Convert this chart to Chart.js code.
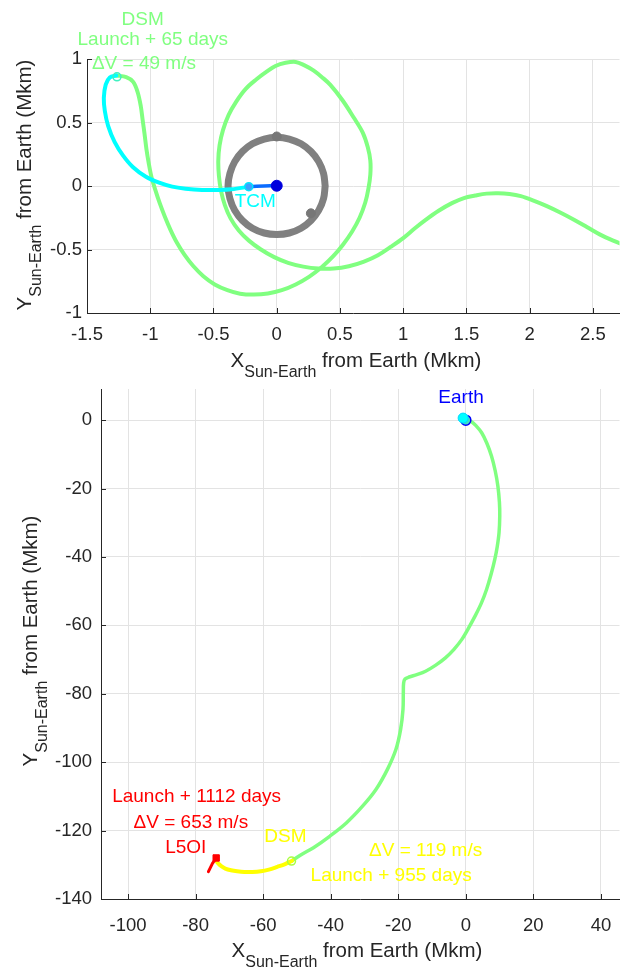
<!DOCTYPE html>
<html>
<head>
<meta charset="utf-8">
<script src="https://cdn.jsdelivr.net/npm/chart.js@4.4.1/dist/chart.umd.min.js"></script>
<style>
  body { margin: 0; background: #fff; }
  #wrap { position: relative; width: 626px; height: 969px; }
  #nearChart { position: absolute; left: 0; top: 0; }
  #farChart { position: absolute; left: 0; top: 380px; }
</style>
</head>
<body>
<div id="wrap">
  <canvas id="nearChart" width="626" height="380"></canvas>
  <canvas id="farChart" width="626" height="589"></canvas>
</div>
<script>
// ---- top panel: first weeks near Earth (Mkm) ----
const nearXTicks = [-1.5, -1, -0.5, 0, 0.5, 1, 1.5, 2, 2.5];
const nearYTicks = [-1, -0.5, 0, 0.5, 1];

// Moon orbit trace (grey ring)
const moonX = [0.383, 0.370, 0.332, 0.271, 0.192, 0.099, 0, -0.099, -0.192, -0.271, -0.332, -0.370, -0.385, -0.370, -0.332, -0.271, -0.192, -0.099, 0, 0.099, 0.192, 0.271, 0.332, 0.370, 0.383];
const moonY = [0, 0.099, 0.192, 0.271, 0.332, 0.370, 0.383, 0.370, 0.332, 0.271, 0.192, 0.099, 0, -0.099, -0.192, -0.271, -0.332, -0.370, -0.381, -0.370, -0.332, -0.271, -0.192, -0.099, 0];
const moonMarkX = [0, 0.27];
const moonMarkY = [0.39, -0.215];

// launch -> TCM (blue)
const launchX = [0, -0.1, -0.22];
const launchY = [0.005, 0.0, -0.005];

// TCM -> DSM (cyan)
const cruiseX = [-0.219, -0.357, -0.461, -0.591, -0.721, -0.826, -0.930, -1.034, -1.138, -1.216, -1.281, -1.333, -1.359, -1.367, -1.352, -1.320, -1.268];
const cruiseY = [-0.005, -0.026, -0.031, -0.031, -0.021, -0.005, 0.026, 0.073, 0.150, 0.241, 0.345, 0.474, 0.591, 0.694, 0.798, 0.855, 0.870];

// after DSM (green)
const transferX = [-1.268, -1.19, -1.135, -1.1, -1.075, -1.06, -1.045, -1.03, -1.012, -0.99, -0.96, -0.925, -0.885, -0.84, -0.79, -0.73, -0.66, -0.58, -0.49, -0.39, -0.29, -0.18, -0.07, 0.04, 0.15, 0.255, 0.355, 0.445, 0.525, 0.595, 0.655, 0.7, 0.725, 0.74, 0.74, 0.72, 0.68, 0.61, 0.52, 0.424, 0.36, 0.29, 0.22, 0.15, 0.07, -0.01, -0.08, -0.16, -0.245, -0.32, -0.38, -0.425, -0.452, -0.462, -0.457, -0.44, -0.41, -0.365, -0.3, -0.22, -0.125, -0.02, 0.09, 0.21, 0.33, 0.45, 0.57, 0.69, 0.8, 0.9, 1.0, 1.09, 1.18, 1.28, 1.385, 1.48, 1.57, 1.66, 1.75, 1.84, 1.93, 2.03, 2.14, 2.245, 2.35, 2.455, 2.557, 2.66, 2.75];
const transferY = [0.870, 0.858, 0.82, 0.74, 0.63, 0.52, 0.41, 0.29, 0.18, 0.07, -0.03, -0.135, -0.24, -0.345, -0.445, -0.54, -0.63, -0.71, -0.775, -0.82, -0.848, -0.855, -0.846, -0.82, -0.775, -0.715, -0.64, -0.555, -0.46, -0.36, -0.25, -0.13, -0.02, 0.09, 0.2, 0.305, 0.42, 0.537, 0.675, 0.796, 0.855, 0.91, 0.95, 0.977, 0.97, 0.945, 0.9, 0.84, 0.765, 0.665, 0.56, 0.44, 0.32, 0.2, 0.08, -0.04, -0.15, -0.255, -0.35, -0.43, -0.5, -0.56, -0.605, -0.635, -0.65, -0.65, -0.632, -0.595, -0.545, -0.48, -0.41, -0.335, -0.265, -0.195, -0.135, -0.095, -0.075, -0.06, -0.057, -0.063, -0.08, -0.115, -0.16, -0.21, -0.265, -0.325, -0.383, -0.43, -0.465];

// ---- bottom panel: whole cruise to L5 (Mkm) ----
const farXTicks = [-100, -80, -60, -40, -20, 0, 20, 40];
const farYTicks = [-140, -120, -100, -80, -60, -40, -20, 0];

const cruise2X = [0, 1.5, 3.0, 4.7, 6.2, 7.6, 8.7, 9.5, 9.95, 10.05, 9.84, 9.3, 8.58, 7.5, 6.14, 4.6, 2.73, 0.8, -1.17, -3.5, -6.04, -9, -11.9, -14.5, -16.8, -18.0, -18.4, -18.5, -18.6, -19.3, -20.7, -23.2, -26.6, -30.5, -35.3, -40.2, -45.1, -49, -51.4];
const cruise2Y = [0.3, -0.3, -1.6, -3.7, -6.7, -10.5, -14.8, -19.3, -24, -28, -32.9, -37, -40.7, -45, -49.5, -53.5, -57.3, -60.8, -64.1, -67, -69.5, -71.7, -73.4, -74.4, -75.1, -75.7, -76.8, -79.7, -84.6, -90.4, -96.3, -102.1, -108, -112.8, -117.7, -121.6, -125, -127.2, -128.8];

const finalX = [-51.4, -53.5, -55.8, -58.3, -60.7, -63.2, -65.6, -67.7, -69.5, -71.2, -72.4, -73.3, -73.8, -74.0];
const finalY = [-128.8, -129.8, -130.6, -131.4, -131.9, -132.1, -132.1, -131.9, -131.6, -131.1, -130.4, -129.6, -128.9, -128.2];

const insertionX = [-74.0, -75.0, -76.2];
const insertionY = [-128.2, -129.6, -132.0];

const toPoints = (xs, ys) => xs.map((x, i) => ({ x: x, y: ys[i] }));

const FONT = '"Liberation Sans", Arial, Helvetica, sans-serif';
const AXIS = '#262626';
const GRID = '#e3e3e3';
const GREEN = '#80ff80';

Chart.defaults.font.family = FONT;
Chart.defaults.animation = false;

// axis title with a subscript, like the MATLAB tex label
function drawSubTitle(ctx, cx, base, rotated) {
  const big = '20.5px ' + FONT, small = '16px ' + FONT;
  const parts = [[rotated ? 'Y' : 'X', big, 0], ['Sun-Earth', small, 10], [' from Earth (Mkm)', big, 0]];
  let total = 0;
  parts.forEach(p => { ctx.font = p[1]; p.push(ctx.measureText(p[0]).width); total += p[3]; });
  ctx.save();
  if (rotated) {
    ctx.translate(base, cx);
    ctx.rotate(-Math.PI / 2);
  } else {
    ctx.translate(cx, base);
  }
  ctx.fillStyle = AXIS;
  ctx.textAlign = 'left';
  ctx.textBaseline = 'alphabetic';
  let x = -total / 2;
  parts.forEach(p => { ctx.font = p[1]; ctx.fillText(p[0], x, p[2]); x += p[3]; });
  ctx.restore();
}

const decor = {
  id: 'decor',
  afterDraw(chart, args, opts) {
    const ctx = chart.ctx, xs = chart.scales.x, ys = chart.scales.y, a = chart.chartArea;
    ctx.save();
    // inward tick marks
    ctx.strokeStyle = AXIS;
    ctx.lineWidth = 1;
    ctx.beginPath();
    xs.ticks.forEach(t => {
      const px = Math.round(xs.getPixelForValue(t.value)) + 0.5;
      ctx.moveTo(px, a.bottom); ctx.lineTo(px, a.bottom - 5);
    });
    ys.ticks.forEach(t => {
      const py = Math.round(ys.getPixelForValue(t.value)) + 0.5;
      ctx.moveTo(a.left, py); ctx.lineTo(a.left + 5, py);
    });
    ctx.stroke();
    // event labels
    ctx.font = '19px ' + FONT;
    ctx.textAlign = 'center';
    ctx.textBaseline = 'middle';
    opts.labels.forEach(l => {
      ctx.fillStyle = l.color;
      ctx.fillText(l.text, xs.getPixelForValue(l.x), ys.getPixelForValue(l.y));
    });
    ctx.restore();
    drawSubTitle(ctx, opts.xTitle[0], opts.xTitle[1], false);
    drawSubTitle(ctx, opts.yTitle[0], opts.yTitle[1], true);
  }
};

function line(points, color, width, order, tension) {
  return { data: points, showLine: true, borderColor: color, borderWidth: width, pointRadius: 0, tension: tension, order: order, borderCapStyle: 'round', borderJoinStyle: 'round' };
}
function marker(points, style, radius, border, fill, bw, order) {
  return { data: points, showLine: false, pointStyle: style, pointRadius: radius, borderColor: border, backgroundColor: fill, pointBorderWidth: bw, borderWidth: bw, order: order };
}
function axis(min, max, ticks, size, pad, isX) {
  return {
    type: 'linear', min: min, max: max,
    afterBuildTicks: s => { s.ticks = ticks.map(v => ({ value: v })); },
    afterFit: s => {
      if (isX) s.height = size; else s.width = size;
      s.paddingTop = 0; s.paddingBottom = 0; s.paddingLeft = 0; s.paddingRight = 0;
    },
    grid: { color: GRID, drawTicks: false },
    border: { color: AXIS, width: 1 },
    ticks: { color: AXIS, font: { size: 18.5 }, padding: pad, autoSkip: false, maxRotation: 0, callback: v => String(v) }
  };
}

new Chart(document.getElementById('nearChart'), {
  type: 'scatter',
  data: {
    datasets: [
      marker([{ x: -1.263, y: 0.86 }], 'circle', 4, '#40f0c0', 'rgba(0,0,0,0)', 1.5, 0),
      marker([{ x: -0.221, y: -0.005 }], 'circle', 4, '#00e5ff', '#3fa0ff', 1.5, 0),
      marker([{ x: 0, y: 0.002 }], 'circle', 5.5, '#0000dd', '#0000dd', 1, 0),
      line(toPoints(launchX, launchY), '#0a6cff', 3.5, 1, 0.3),
      line(toPoints(cruiseX, cruiseY), '#00ffff', 4, 2, 0.35),
      line(toPoints(transferX, transferY), GREEN, 4, 3, 0.35),
      marker(toPoints(moonMarkX, moonMarkY), 'circle', 4.5, '#777777', '#777777', 1, 4),
      line(toPoints(moonX, moonY), '#808080', 7, 5, 0.4)
    ]
  },
  options: {
    responsive: false,
    layout: { padding: { top: 59, right: 0, bottom: 0, left: 0 } },
    scales: {
      x: axis(-1.5, 2.71, nearXTicks, 67, 11, true),
      y: axis(-1, 1, nearYTicks, 87, 5, false)
    },
    plugins: {
      legend: { display: false },
      tooltip: { enabled: false },
      decor: {
        labels: [
          { text: 'DSM', x: -1.06, y: 1.31, color: GREEN },
          { text: 'Launch + 65 days', x: -0.98, y: 1.15, color: GREEN },
          { text: '\u0394V = 49 m/s', x: -1.05, y: 0.96, color: GREEN },
          { text: 'TCM', x: -0.17, y: -0.124, color: '#00ffff' }
        ],
        xTitle: [356, 367],
        yTitle: [185, 31]
      }
    }
  },
  plugins: [decor]
});

new Chart(document.getElementById('farChart'), {
  type: 'scatter',
  data: {
    datasets: [
      marker([{ x: -0.8, y: 0.6 }], 'circle', 5, '#00d8ff', '#00ffff', 1, 0),
      marker([{ x: 0, y: 0 }], 'circle', 5, '#0000ff', '#40e0c0', 1.5, 0),
      marker([{ x: -51.6, y: -128.9 }], 'circle', 4, '#a8ff40', 'rgba(0,0,0,0)', 1.5, 0),
      marker([{ x: -73.9, y: -128.0 }], 'rect', 4.5, '#ff0000', '#ff0000', 1, 0),
      line(toPoints(insertionX, insertionY), '#ff0000', 3, 1, 0),
      line(toPoints(finalX, finalY), '#ffff00', 4, 2, 0.35),
      line(toPoints(cruise2X, cruise2Y), GREEN, 3.5, 3, 0.35)
    ]
  },
  options: {
    responsive: false,
    layout: { padding: { top: 9, right: 0, bottom: 0, left: 0 } },
    scales: {
      x: axis(-108, 45.5, farXTicks, 70, 16, true),
      y: axis(-140, 9.1, farYTicks, 101, 9, false)
    },
    plugins: {
      legend: { display: false },
      tooltip: { enabled: false },
      decor: {
        labels: [
          { text: 'Earth', x: -1.4, y: 6.6, color: '#0000ff' },
          { text: 'Launch + 1112 days', x: -79.7, y: -110.0, color: '#ff0000' },
          { text: '\u0394V = 653 m/s', x: -81.4, y: -117.6, color: '#ff0000' },
          { text: 'L5OI', x: -82.9, y: -124.9, color: '#ff0000' },
          { text: 'DSM', x: -53.4, y: -121.7, color: '#ffff00' },
          { text: '\u0394V = 119 m/s', x: -11.9, y: -125.8, color: '#ffff00' },
          { text: 'Launch + 955 days', x: -22.1, y: -133.1, color: '#ffff00' }
        ],
        xTitle: [357, 577],
        yTitle: [261, 37]
      }
    }
  },
  plugins: [decor]
});
</script>
</body>
</html>
